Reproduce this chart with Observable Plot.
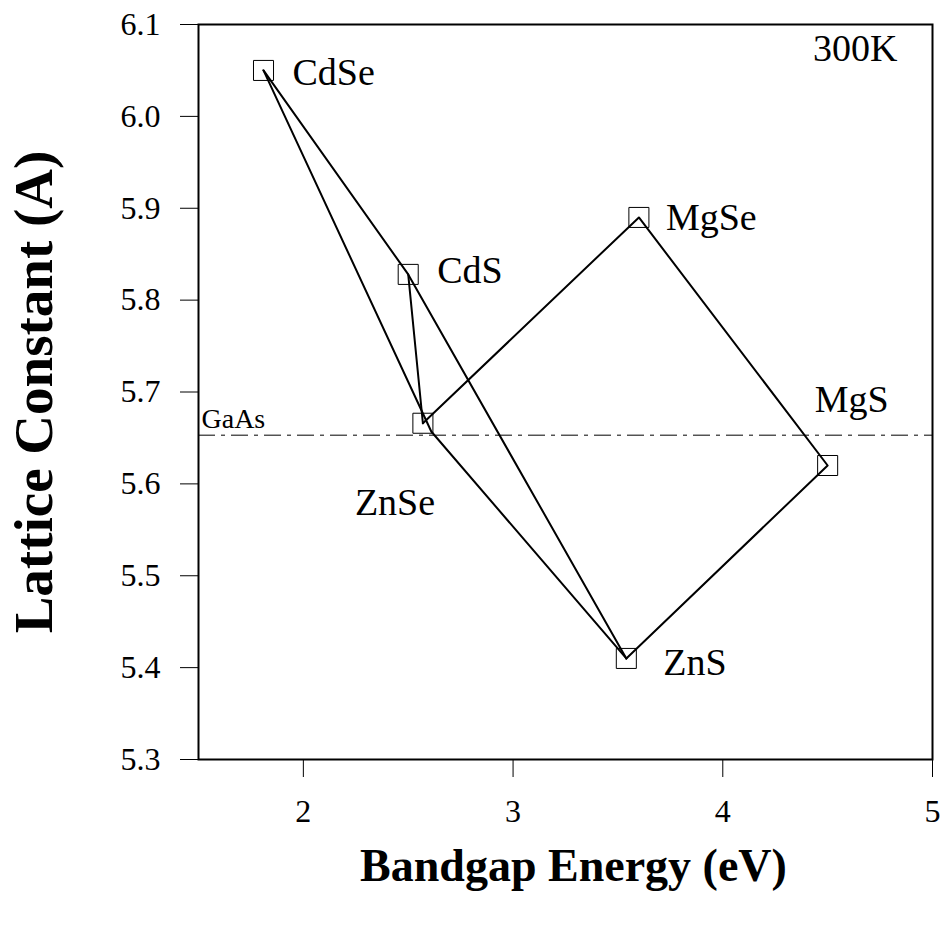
<!DOCTYPE html>
<html>
<head>
<meta charset="utf-8">
<script src="https://cdn.jsdelivr.net/npm/d3@7"></script>
<script src="https://cdn.jsdelivr.net/npm/@observablehq/plot@0.6"></script>
<style>
  html, body { margin: 0; padding: 0; background: #fff; }
  svg text { font-family: 'Liberation Serif', 'Times New Roman', serif; }
</style>
</head>
<body>
<div id="chart"></div>
<script>
// ---- data ----
const materials = ["CdSe", "CdS", "ZnSe", "ZnS", "MgSe", "MgS"];
const bandgap   = [1.81, 2.50, 2.57, 3.54, 3.60, 4.50];   // eV
const lattice   = [6.050, 5.828, 5.666, 5.410, 5.890, 5.620]; // Å
const bendName = "bend";
const bendGap = 2.61;
const bendLattice = 5.657;
const gaasLattice = 5.653;
const paths = [
  ["CdSe", "bend", "ZnS"],
  ["CdSe", "CdS", "ZnS"],
  ["CdS", "ZnSe"],
  ["ZnSe", "MgSe", "MgS", "ZnS"]
];
const xTicks = [2, 3, 4, 5];
const yTicks = [5.3, 5.4, 5.5, 5.6, 5.7, 5.8, 5.9, 6.0, 6.1];
const temperatureLabel = "300K";
const xTitle = "Bandgap Energy (eV)";
const yTitle = "Lattice Constant (A)";

// ---- derived tables ----
const points = materials.map((m, i) => ({name: m, x: bandgap[i], y: lattice[i]}));
const lookup = new Map(points.map(p => [p.name, p]));
lookup.set(bendName, {name: bendName, x: bendGap, y: bendLattice});
const lineRows = paths.flatMap((p, k) => p.map(n => ({...lookup.get(n), path: k})));

// label offsets (pixels) — styling, not data
const labelOffset = {
  CdSe: [29, 2], CdS: [29, -4], ZnSe: [-68, 80], ZnS: [37, 4], MgSe: [27, 0], MgS: [-13, -66]
};

const serif = "'Liberation Serif', 'Times New Roman', serif";

const chart = Plot.plot({
  width: 944,
  height: 928,
  marginLeft: 198,
  marginRight: 12,
  marginTop: 24,
  marginBottom: 169,
  style: {fontFamily: serif, background: "#fff", color: "#000"},
  x: {domain: [1.5, 5]},
  y: {domain: [5.3, 6.1]},
  marks: [
    Plot.axisX({ticks: xTicks, tickSize: 18, tickPadding: 22, fontSize: 32, tickFormat: d3.format("d"), label: null, strokeWidth: 1}),
    Plot.axisY({ticks: yTicks, tickSize: 18, tickPadding: 20, fontSize: 32, tickFormat: d3.format(".1f"), label: null, strokeWidth: 1}),
    Plot.ruleY([gaasLattice], {stroke: "#000", strokeWidth: 1, strokeDasharray: "17,6,4,6"}),
    Plot.text(["GaAs"], {x: 1.5, y: gaasLattice, text: d => d, textAnchor: "start", dx: 3, dy: -16, fontSize: 28}),
    Plot.line(lineRows, {x: "x", y: "y", z: "path", stroke: "#000", strokeWidth: 2}),
    Plot.dot(points, {x: "x", y: "y", symbol: "square", r: 11.3, stroke: "#000", strokeWidth: 1, fill: "none"}),
    ...points.map(p => Plot.text([p], {
      x: "x", y: "y", text: "name", textAnchor: "start",
      dx: labelOffset[p.name][0], dy: labelOffset[p.name][1], fontSize: 38
    })),
    Plot.text([temperatureLabel], {frameAnchor: "top-right", text: d => d, dx: -35, dy: 10, fontSize: 38}),
    Plot.text([xTitle], {frameAnchor: "bottom", text: d => d, dx: 8, dy: 121, fontSize: 46, fontWeight: "bold"}),
    Plot.text([yTitle], {frameAnchor: "left", text: d => d, textAnchor: "middle", dx: -164, rotate: -90, fontSize: 55, fontWeight: "bold"}),
    Plot.frame({stroke: "#000", strokeWidth: 2})
  ]
});
document.getElementById("chart").appendChild(chart);
</script>
</body>
</html>
